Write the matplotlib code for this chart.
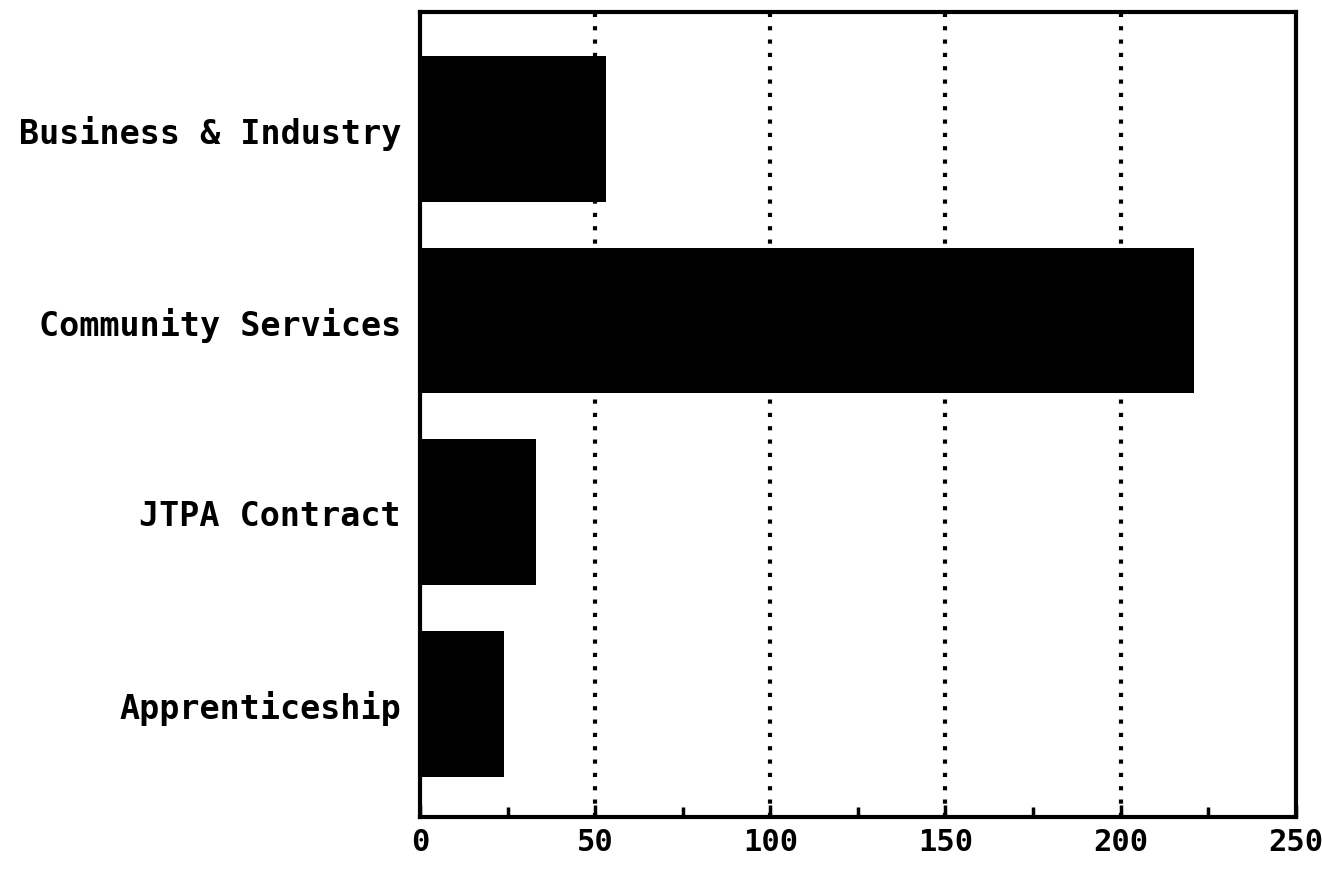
import matplotlib.pyplot as plt
from matplotlib.ticker import MultipleLocator

categories = ["Business & Industry", "Community Services", "JTPA Contract", "Apprenticeship"]
values = [53, 221, 33, 24]
xticks = [0, 50, 100, 150, 200, 250]

fig = plt.figure(figsize=(13.22, 8.70), dpi=100)
ax = fig.add_axes([0.318, 0.060, 0.662, 0.925])

pos = list(range(len(categories)))
ax.barh(pos, values, height=0.76, color="black", zorder=3)
ax.set_ylim(len(categories) - 0.41, -0.61)
ax.set_xlim(0, 250)

ax.set_xticks(xticks)
ax.xaxis.set_minor_locator(MultipleLocator(25))
ax.set_yticks(pos)
ax.set_yticklabels(categories)

for x in xticks[1:-1]:
    ax.axvline(x, color="black", linestyle=(0, (1, 2.2)), linewidth=3, zorder=2)

for lab in ax.get_yticklabels():
    lab.set(family="DejaVu Sans Mono", weight="bold", size=24)
for lab in ax.get_xticklabels():
    lab.set(family="DejaVu Sans Mono", weight="bold", size=22)

ax.tick_params(axis="y", length=0, pad=14)
ax.tick_params(axis="x", which="major", direction="in", length=9, width=2.5, pad=7)
ax.tick_params(axis="x", which="minor", direction="in", length=7, width=2.5)
ax.tick_params(top=False, right=False)

for s in ax.spines.values():
    s.set_linewidth(3)

fig.savefig("out.png", dpi=100)
